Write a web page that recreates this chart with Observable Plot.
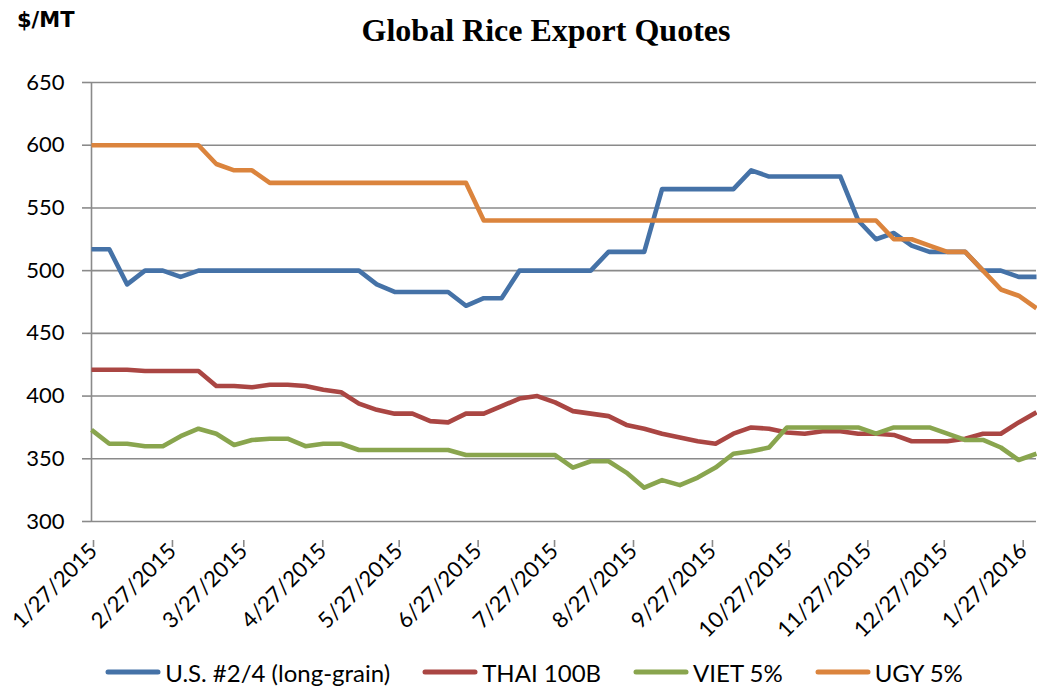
<!DOCTYPE html>
<html>
<head>
<meta charset="utf-8">
<script src="https://cdn.jsdelivr.net/npm/d3@7"></script>
<script src="https://cdn.jsdelivr.net/npm/@observablehq/plot@0.6"></script>
<style>
  html, body { margin: 0; padding: 0; background: #fff; }
  #wrap { position: relative; width: 1037px; height: 688px; overflow: hidden; }
  #unit { position: absolute; left: 17px; top: 10px; font: bold 21px "DejaVu Sans"; line-height: 1; color: #000; }
  #title { position: absolute; left: 546px; top: 14px; transform: translateX(-50%); font: bold 32px "Liberation Serif"; line-height: 1; white-space: nowrap; color: #000; }
  #chart { position: absolute; left: 0; top: 60px; }
  #legend { position: absolute; left: 0; top: 657px; width: 1006px; padding-left: 31px; height: 30px; display: flex; justify-content: center; align-items: center; font: 24px Lato; color: #000; }
  .item { display: flex; align-items: center; margin: 0 16px; }
  .item svg { margin-right: 4px; }
</style>
</head>
<body>
<div id="wrap">
  <div id="unit">$/MT</div>
  <div id="title">Global Rice Export Quotes</div>
  <div id="chart"></div>
  <div id="legend"></div>
</div>
<script>
// Weekly quotes, first week 1/27/2015
const startDate = "2015-01-27";
const seriesNames = ["U.S. #2/4 (long-grain)", "THAI 100B", "VIET 5%", "UGY 5%"];
const seriesColors = ["#4572A7", "#AA4643", "#89A54E", "#DB843D"];

const usLongGrain = [517, 517, 489, 500, 500, 495, 500, 500, 500, 500, 500, 500, 500, 500, 500, 500, 489, 483, 483, 483, 483, 472, 478, 478, 500, 500, 500, 500, 500, 515, 515, 515, 565, 565, 565, 565, 565, 580, 575, 575, 575, 575, 575, 540, 525, 530, 520, 515, 515, 515, 500, 500, 495, 495];
const thai100B = [421, 421, 421, 420, 420, 420, 420, 408, 408, 407, 409, 409, 408, 405, 403, 394, 389, 386, 386, 380, 379, 386, 386, 392, 398, 400, 395, 388, 386, 384, 377, 374, 370, 367, 364, 362, 370, 375, 374, 371, 370, 372, 372, 370, 370, 369, 364, 364, 364, 366, 370, 370, 379, 387];
const viet5 = [373, 362, 362, 360, 360, 368, 374, 370, 361, 365, 366, 366, 360, 362, 362, 357, 357, 357, 357, 357, 357, 353, 353, 353, 353, 353, 353, 343, 348, 348, 339, 327, 333, 329, 335, 343, 354, 356, 359, 375, 375, 375, 375, 375, 370, 375, 375, 375, 370, 365, 365, 359, 349, 354];
const ugy5 = [600, 600, 600, 600, 600, 600, 600, 585, 580, 580, 570, 570, 570, 570, 570, 570, 570, 570, 570, 570, 570, 570, 540, 540, 540, 540, 540, 540, 540, 540, 540, 540, 540, 540, 540, 540, 540, 540, 540, 540, 540, 540, 540, 540, 540, 525, 525, 520, 515, 515, 500, 485, 480, 470];

const xTickLabels = ["1/27/2015", "2/27/2015", "3/27/2015", "4/27/2015", "5/27/2015", "6/27/2015", "7/27/2015", "8/27/2015", "9/27/2015", "10/27/2015", "11/27/2015", "12/27/2015", "1/27/2016"];
const yTicks = [300, 350, 400, 450, 500, 550, 600, 650];

const parseTick = d3.utcParse("%m/%d/%Y");
const fmtTick = d3.utcFormat("%-m/%-d/%Y");
const xTicks = xTickLabels.map(parseTick);
const start = d3.utcParse("%Y-%m-%d")(startDate);
const allSeries = [usLongGrain, thai100B, viet5, ugy5];
const data = [];
allSeries.forEach((vals, s) => vals.forEach((v, i) => data.push({series: seriesNames[s], date: d3.utcDay.offset(start, 7 * i), value: v})));
const dates = usLongGrain.map((_, i) => d3.utcDay.offset(start, 7 * i));

const gray = "#8a8a8a";
const chart = Plot.plot({
  width: 1037,
  height: 590,
  marginLeft: 91,
  marginRight: 1,
  marginTop: 22,
  marginBottom: 129,
  style: {fontFamily: "Lato", fontSize: "22px", color: "#000", background: "transparent"},
  x: {type: "utc", domain: [dates[0], dates[dates.length - 1]], label: null},
  y: {domain: [300, 650], label: null},
  color: {domain: seriesNames, range: seriesColors},
  marks: [
    Plot.gridY(yTicks, {stroke: gray, strokeOpacity: 1, strokeWidth: 1.6}),
    Plot.ruleX([dates[0]], {stroke: gray, strokeWidth: 1.6}),
    Plot.axisY(yTicks, {label: null, tickSize: 9, tickPadding: 18, stroke: gray, strokeWidth: 1.6, fontSize: 22, tickFormat: d => d}),
    Plot.axisX(xTicks, {label: null, tickSize: 7, stroke: gray, strokeWidth: 1.6, tickFormat: fmtTick, tickRotate: -45, textAnchor: "end", lineAnchor: "middle", tickPadding: 0, dx: 2, dy: 19, fontSize: 22}),
    Plot.line(data, {x: "date", y: "value", z: "series", stroke: "series", strokeWidth: 4.6, strokeLinejoin: "round", strokeLinecap: "butt", curve: "linear"})
  ]
});
document.getElementById("chart").appendChild(chart);

const legend = d3.select("#legend");
seriesNames.forEach((name, i) => {
  const item = legend.append("div").attr("class", "item");
  const svg = item.append("svg").attr("width", 56).attr("height", 10);
  svg.append("line").attr("x1", 3).attr("x2", 53).attr("y1", 5).attr("y2", 5)
    .attr("stroke", seriesColors[i]).attr("stroke-width", 5).attr("stroke-linecap", "round");
  item.append("span").text(name);
});
</script>
</body>
</html>
